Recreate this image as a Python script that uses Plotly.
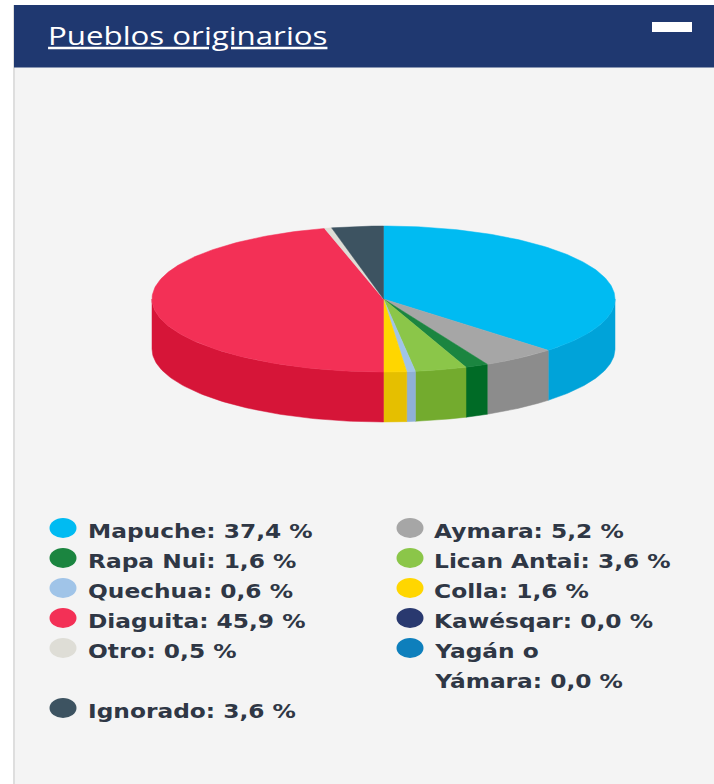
import numpy as np
import plotly.graph_objects as go

# Data
pueblos = ["Mapuche", "Aymara", "Rapa Nui", "Lican Antai", "Quechua", "Colla",
           "Diaguita", "Kawésqar", "Otro", "Yagán o Yámara", "Ignorado"]
valores = [37.4, 5.2, 1.6, 3.6, 0.6, 1.6, 45.9, 0.0, 0.5, 0.0, 3.6]
colores_top = ["#00bbf2", "#a6a6a6", "#1b8540", "#8bc649", "#a0c4e8", "#ffd600",
               "#f33056", "#29396f", "#deddd6", "#0e7fbc", "#3d5361"]
colores_side = ["#00a3d9", "#8c8c8c", "#006b26", "#73ab2e", "#8fb0d6", "#e5bf00",
                "#d61538", "#29396f", "#c8c7c0", "#0e7fbc", "#324450"]
leyenda_izq = ["Mapuche: 37,4 %", "Rapa Nui: 1,6 %", "Quechua: 0,6 %", "Diaguita: 45,9 %", "Otro: 0,5 %", "", "Ignorado: 3,6 %"]
col_izq = ["#00bbf2", "#1b8540", "#a0c4e8", "#f33056", "#deddd6", None, "#3d5361"]
leyenda_der = ["Aymara: 5,2 %", "Lican Antai: 3,6 %", "Colla: 1,6 %", "Kawésqar: 0,0 %", "Yagán o", "Yámara: 0,0 %"]
col_der = ["#a6a6a6", "#8bc649", "#ffd600", "#29396f", "#0e7fbc", None]
titulo = "Pueblos originarios"

W, H = 714, 784
CX, CY, RX, RY, DEPTH = 383.5, 299, 231.5, 73, 50
TEXT = "#2f3745"
FONT = "DejaVu Sans"

def point(a, dy=0):
    return CX + RX * np.sin(a), CY - RY * np.cos(a) + dy

fig = go.Figure()
total = sum(valores)
acc = np.cumsum([0] + valores) / total * 2 * np.pi

# side walls (front half only), then top faces
for i, p in enumerate(pueblos):
    a0, a1 = max(acc[i], np.pi / 2), min(acc[i + 1], 3 * np.pi / 2)
    if a1 <= a0:
        continue
    t = np.linspace(a0, a1, 80)
    x1, y1 = point(t)
    x2, y2 = point(t[::-1], DEPTH)
    fig.add_trace(go.Scatter(x=np.r_[x1, x2, x1[0]], y=np.r_[y1, y2, y1[0]], mode="lines", fill="toself",
                             fillcolor=colores_side[i], line=dict(color=colores_side[i], width=0.5),
                             hoverinfo="skip", showlegend=False))
for i, p in enumerate(pueblos):
    if valores[i] == 0:
        continue
    t = np.linspace(acc[i], acc[i + 1], 160)
    x, y = point(t)
    fig.add_trace(go.Scatter(x=np.r_[CX, x, CX], y=np.r_[CY, y, CY], mode="lines", fill="toself",
                             fillcolor=colores_top[i], line=dict(color=colores_top[i], width=0.5),
                             name=p, text=f"{p}: {valores[i]} %", hoverinfo="text", showlegend=False))

shapes = [
    dict(type="rect", x0=14, x1=W, y0=5, y1=H, fillcolor="#f4f4f4", line_width=0, layer="below"),
    dict(type="rect", x0=13, x1=15, y0=5, y1=H, fillcolor="#dedede", line_width=0, layer="below"),
    dict(type="rect", x0=14, x1=W, y0=5, y1=67.5, fillcolor="#1f3870", line_width=0, layer="below"),
    dict(type="rect", x0=652, x1=692, y0=22, y1=32, fillcolor="#ffffff", line_width=0, layer="below"),
]
annotations = [dict(x=46, y=34.5, text=f"<u>{titulo}</u>", showarrow=False, xanchor="left", yanchor="middle",
                    font=dict(family="Open Sans", size=25, color="#ffffff"))]

def legend(labels, colors, xs, xt):
    for k, (lab, c) in enumerate(zip(labels, colors)):
        yc = 531 + 30 * k
        if c:
            shapes.append(dict(type="circle", x0=xs - 13.5, x1=xs + 13.5, y0=yc - 13, y1=yc + 7,
                               fillcolor=c, line_width=0))
        if lab:
            annotations.append(dict(x=xt, y=yc, text=lab, showarrow=False, xanchor="left", yanchor="middle",
                                    font=dict(family=FONT, size=20, color=TEXT, weight="bold")))

legend(leyenda_izq, col_izq, 63, 85.5)
legend(leyenda_der, col_der, 410, 431.5)

fig.update_layout(
    width=W, height=H, margin=dict(l=0, r=0, t=0, b=0),
    paper_bgcolor="#ffffff", plot_bgcolor="#ffffff",
    xaxis=dict(range=[0, W], visible=False, fixedrange=True),
    yaxis=dict(range=[H, 0], visible=False, fixedrange=True),
    shapes=shapes, annotations=annotations, showlegend=False,
)
# The reference is a horizontally stretched screenshot: widen the text the same way.
stretch = """
document.documentElement.style.margin='0';document.body.style.margin='0';
document.querySelectorAll('text.annotation-text').forEach(function(t){
  var b=t.getBBox();
  var k=t.textContent.indexOf('Pueblos')===0?1.25:1.165;
  t.setAttribute('transform','translate('+b.x+' 0) scale('+k+' 1) translate('+(-b.x)+' 0)');
});
"""
fig.write_html("out.html", config=dict(displayModeBar=False), post_script=stretch)
